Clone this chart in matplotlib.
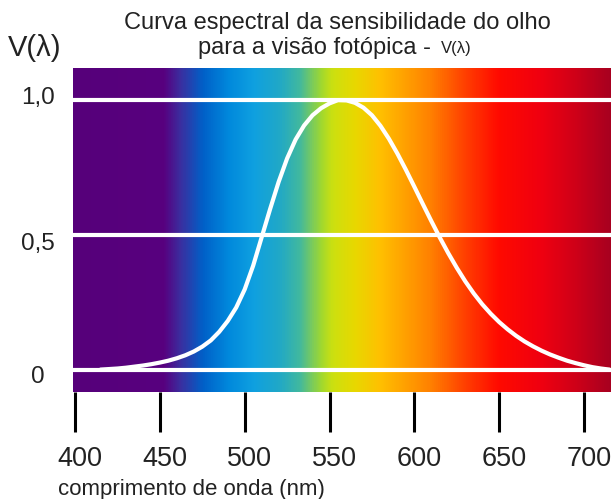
import numpy as np
import matplotlib.pyplot as plt
import matplotlib.transforms as mtransforms
from matplotlib.colors import LinearSegmentedColormap

plt.rcParams['font.family'] = ['Liberation Sans', 'DejaVu Sans']

# curva V(lambda)
wavelength = [415, 420, 425, 430, 435, 440, 445, 450, 455, 460, 465, 470, 475, 480,
              485, 490, 495, 500, 505, 510, 515, 520, 525, 530, 535, 540, 545, 550,
              555, 560, 565, 570, 575, 580, 585, 590, 595, 600, 605, 610, 615, 620,
              625, 630, 635, 640, 645, 650, 655, 660, 665, 670, 675, 680, 685, 690,
              695, 700, 705, 710, 715]
sensitivity = [0.0, 0.002, 0.004, 0.007, 0.011, 0.015, 0.020, 0.026, 0.033, 0.042,
               0.053, 0.067, 0.085, 0.108, 0.140, 0.180, 0.230, 0.297, 0.385, 0.490,
               0.595, 0.695, 0.782, 0.852, 0.904, 0.942, 0.968, 0.986, 0.998, 0.997,
               0.988, 0.970, 0.942, 0.903, 0.855, 0.800, 0.740, 0.677, 0.613, 0.550,
               0.489, 0.431, 0.377, 0.327, 0.282, 0.242, 0.207, 0.176, 0.149, 0.125,
               0.104, 0.086, 0.070, 0.056, 0.044, 0.033, 0.024, 0.016, 0.009, 0.004,
               0.0]

# cores do espectro de fundo
spec_nm = [398, 452, 462, 475, 490, 505, 520, 532, 545, 552, 565, 580, 595, 610,
           630, 650, 675, 695, 716]
spec_colors = ['#56007a', '#58007f', '#3a2fa0', '#0060c8', '#0088dc', '#0fa0e0',
               '#20a8c8', '#40b8a0', '#a0d830', '#cce010', '#e8d800', '#ffc000',
               '#ffa000', '#ff8000', '#ff4000', '#ff0a00', '#f00010', '#d00018',
               '#a80020']

tick_nm = [400, 450, 500, 550, 600, 650, 700]
y_levels = [0, 0.5, 1.0]
y_labels = ['0', '0,5', '1,0']

x_min, x_max = 398.8, 715.9
y_min, y_max = -0.083, 1.117

fig = plt.figure(figsize=(6.12, 4.99), dpi=100)
ax = fig.add_axes([73 / 612, 1 - 392 / 499, 538 / 612, 324 / 499])

# fundo com o espectro visivel
span = spec_nm[-1] - spec_nm[0]
stops = [((n - spec_nm[0]) / span, c) for n, c in zip(spec_nm, spec_colors)]
cmap = LinearSegmentedColormap.from_list('espectro', stops)
grad = np.linspace(x_min, x_max, 800)[None, :]
ax.imshow(grad, extent=(x_min, x_max, y_min, y_max), aspect='auto', cmap=cmap,
          vmin=spec_nm[0], vmax=spec_nm[-1], interpolation='bilinear', zorder=0)

for lv in y_levels:
    ax.axhline(lv, color='white', lw=3, zorder=2)
ax.plot(wavelength, sensitivity, color='white', lw=3, solid_capstyle='round',
        solid_joinstyle='round', zorder=3)

ax.set_xlim(x_min, x_max)
ax.set_ylim(y_min, y_max)
for s in ax.spines.values():
    s.set_visible(False)

ax.set_xticks(tick_nm)
ax.set_xticklabels([str(t) for t in tick_nm], fontsize=19.5, color='#222222')
ax.tick_params(axis='x', length=29, width=2.2, color='black', pad=10)
shift = mtransforms.ScaledTranslation(5 / 100, 0, fig.dpi_scale_trans)
for lab in ax.get_xticklabels():
    lab.set_transform(lab.get_transform() + shift)

ax.set_yticks(y_levels)
ax.set_yticklabels(y_labels, fontsize=17.5, color='#222222')
ax.tick_params(axis='y', length=0, pad=25)
# os rotulos do eixo y nao ficam exatamente sobre as linhas
for lab, dy in zip(ax.get_yticklabels(), [-5, -7, 4]):
    lab.set_horizontalalignment('center')
    lab.set_transform(lab.get_transform()
                      + mtransforms.ScaledTranslation(0, dy / 100, fig.dpi_scale_trans))

fig.text(337 / 612, 1 - 23 / 499, 'Curva espectral da sensibilidade do olho',
         ha='center', va='center', fontsize=17, color='#222222')
fig.text(437 / 612, 1 - 48 / 499, 'para a visão fotópica - ',
         ha='right', va='center', fontsize=17, color='#222222')
fig.text(441 / 612, 1 - 49 / 499, 'V(λ)', ha='left', va='center', fontsize=12,
         color='#222222')
fig.text(35 / 612, 1 - 48 / 499, 'V(λ)', ha='center', va='center', fontsize=21,
         color='#222222')
fig.text(58 / 612, 1 - 489 / 499, 'comprimento de onda (nm)', ha='left', va='center',
         fontsize=16, color='#222222')

fig.savefig('out.png', dpi=100)
